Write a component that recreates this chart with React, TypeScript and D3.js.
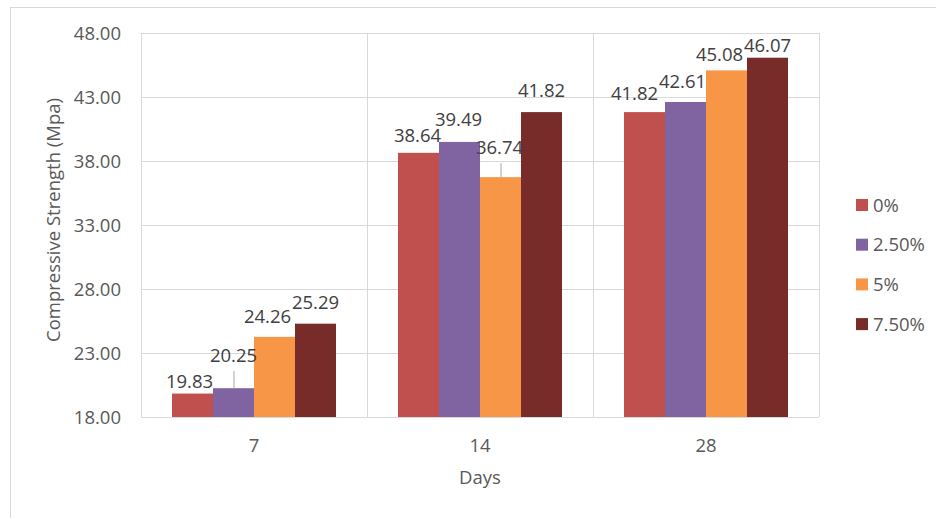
import * as d3 from 'd3';
import React from 'react';

// chart values
const days = ['7', '14', '28'];
const mixes = ['0%', '2.50%', '5%', '7.50%'];
const strength0 = [19.83, 38.64, 41.82];
const strength25 = [20.25, 39.49, 42.61];
const strength5 = [24.26, 36.74, 45.08];
const strength75 = [25.29, 41.82, 46.07];
const yTicks = [18, 23, 28, 33, 38, 43, 48];

const seriesValues = [strength0, strength25, strength5, strength75];
const colors = ['#C0504D', '#8064A2', '#F79646', '#772C2A'];

// hand placed data labels: [dx, lift above bar, leader line]
const labelNudge: Array<Array<[number, number, boolean]>> = [
  [[-3, 6, false], [-1, 11, false], [-10, 12, false]],
  [[0, 26, true], [-1, 16, false], [-3, 14, false]],
  [[-7, 14, false], [-1, 23, true], [-7, 9, false]],
  [[0, 15, false], [0, 15, false], [0, 6, false]],
];

const W = 936;
const H = 518;
const plot = { left: 141, right: 819, top: 33, bottom: 417 };
const font = "'Open Sans', sans-serif";
const axisSize = 18.5;

export default function App() {
  const x0 = d3.scaleBand<string>().domain(days).range([plot.left, plot.right]);
  const x1 = d3
    .scaleBand<string>()
    .domain(mixes)
    .range([0, x0.bandwidth()])
    .paddingOuter(0.756);
  const y = d3.scaleLinear().domain([18, 48]).range([plot.bottom, plot.top]);

  return (
    <svg
      width={W}
      height={H}
      style={{ position: 'absolute', left: 0, top: 0, background: '#fff' }}
      fontFamily={font}
    >
      {/* chart area border */}
      <rect x={10.5} y={7.5} width={W} height={H} fill="#fff" stroke="#d9d9d9" />

      {/* horizontal gridlines */}
      {yTicks.map((t) => (
        <line
          key={'g' + t}
          x1={plot.left}
          x2={plot.right}
          y1={Math.round(y(t)) + 0.5}
          y2={Math.round(y(t)) + 0.5}
          stroke="#d9d9d9"
        />
      ))}
      {/* vertical category gridlines */}
      {days.map((d) => (
        <line
          key={'v' + d}
          x1={Math.round(x0(d)!) + 0.5}
          x2={Math.round(x0(d)!) + 0.5}
          y1={plot.top}
          y2={plot.bottom}
          stroke="#d9d9d9"
        />
      ))}
      <line
        x1={plot.right + 0.5}
        x2={plot.right + 0.5}
        y1={plot.top}
        y2={plot.bottom}
        stroke="#d9d9d9"
      />

      {/* bars */}
      {seriesValues.map((vals, si) =>
        vals.map((v, ci) => (
          <rect
            key={`b${si}-${ci}`}
            x={x0(days[ci])! + x1(mixes[si])!}
            y={y(v)}
            width={x1.bandwidth()}
            height={plot.bottom - y(v)}
            fill={colors[si]}
          />
        ))
      )}

      {/* data labels */}
      {seriesValues.map((vals, si) =>
        vals.map((v, ci) => {
          const [dx, lift, leader] = labelNudge[si][ci];
          const cx = x0(days[ci])! + x1(mixes[si])! + x1.bandwidth() / 2;
          const top = y(v);
          return (
            <g key={`l${si}-${ci}`}>
              {leader && (
                <line
                  x1={cx + 0.5}
                  x2={cx + 0.5}
                  y1={top - lift + 9}
                  y2={top}
                  stroke="#a6a6a6"
                />
              )}
              <text
                x={cx + dx}
                y={top - lift}
                textAnchor="middle"
                fontSize={18.5}
                fill="#404040"
              >
                {v.toFixed(2)}
              </text>
            </g>
          );
        })
      )}

      {/* y tick labels */}
      {yTicks.map((t) => (
        <text
          key={'t' + t}
          x={121}
          y={y(t) + 6.5}
          textAnchor="end"
          fontSize={axisSize}
          fill="#595959"
        >
          {t.toFixed(2)}
        </text>
      ))}

      {/* x tick labels */}
      {days.map((d) => (
        <text
          key={'x' + d}
          x={x0(d)! + x0.bandwidth() / 2}
          y={452}
          textAnchor="middle"
          fontSize={axisSize}
          fill="#595959"
        >
          {d}
        </text>
      ))}

      {/* axis titles */}
      <text
        x={(plot.left + plot.right) / 2}
        y={484}
        textAnchor="middle"
        fontSize={axisSize}
        fill="#595959"
      >
        Days
      </text>
      <text
        transform={`translate(60,${(plot.top + plot.bottom) / 2 - 5}) rotate(-90)`}
        textAnchor="middle"
        fontSize={axisSize}
        fill="#595959"
      >
        Compressive Strength (Mpa)
      </text>

      {/* legend */}
      {mixes.map((m, i) => (
        <g key={'lg' + m} transform={`translate(856,${205 + i * 39.7})`}>
          <rect x={0} y={-6} width={12} height={12} fill={colors[i]} />
          <text x={17} y={6.5} fontSize={axisSize} fill="#595959">
            {m}
          </text>
        </g>
      ))}
    </svg>
  );
}
